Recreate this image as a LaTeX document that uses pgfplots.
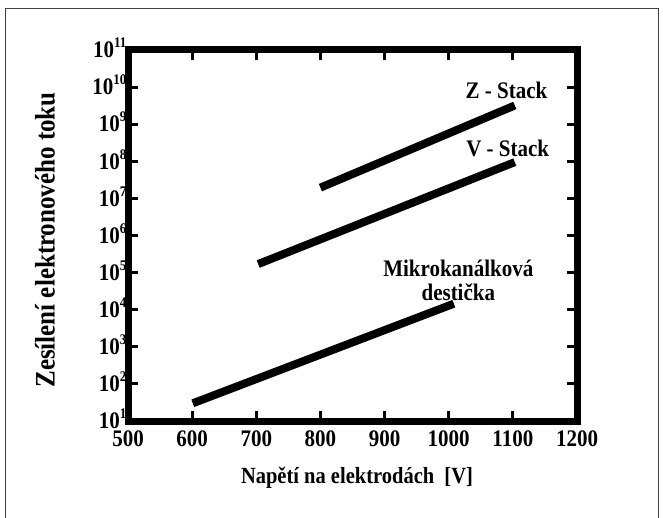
\documentclass[border=0pt]{standalone}
\usepackage{graphicx}
\usepackage{pgfplots}
\pgfplotsset{compat=1.18}
\usepackage{fontspec}
\setmainfont{Liberation Serif}
\newcommand{\sy}[1]{\scalebox{1}[1.13]{#1}}
\newcommand{\ex}[1]{\sy{10\raisebox{0.42em}{\fontsize{13}{13}\selectfont #1}}}
\begin{document}
\begin{tikzpicture}[x=1pt,y=1pt]
\useasboundingbox (0,0) rectangle (663,517);
\draw[line width=1.2pt, black!75] (5.5,-2) -- (5.5,508.5) -- (658.5,508.5) -- (658.5,-2);
\begin{axis}[
  at={(128pt,96pt)}, anchor=south west,
  width=449pt, height=371pt, scale only axis,
  xmin=500, xmax=1200, ymin=1e1, ymax=1e11, ymode=log,
  axis line style={line width=7pt, black},
  xtick={500,600,700,800,900,1000,1100,1200},
  xticklabels={\sy{500},\sy{600},\sy{700},\sy{800},\sy{900},\sy{1000},\sy{1100},\sy{1200}},
  ytick={1e1,1e2,1e3,1e4,1e5,1e6,1e7,1e8,1e9,1e10,1e11},
  yticklabels={\ex{1},\ex{2},\ex{3},\ex{4},\ex{5},\ex{6},\ex{7},\ex{8},\ex{9},\ex{10},\ex{11}},
  minor ytick={}, minor xtick={},
  major tick length=10pt,
  tick style={line width=3pt, black},
  tick label style={font=\fontsize{21}{22}\selectfont\bfseries},
  xticklabel style={yshift=-6pt},
  yticklabel style={xshift=2pt, yshift=2pt},
  xlabel={\sy{Napětí na elektrodách\ \ [V]}},
  ylabel={\sy{Zesílení elektronového toku}},
  xlabel style={font=\fontsize{20.5}{22}\selectfont\bfseries, at={(axis description cs:0.51,-0.154)}, anchor=center},
  ylabel style={font=\fontsize{25}{26}\selectfont\bfseries, at={(axis description cs:-0.185,0.488)}, anchor=center, rotate=0},
  clip=false,
]
\addplot[black, line width=8pt, line cap=butt] coordinates {(800,1.95e7) (1103,3.2e9)};
\addplot[black, line width=8pt, line cap=butt] coordinates {(703,1.7e5) (1103,9.5e7)};
\addplot[black, line width=8pt, line cap=butt] coordinates {(601,30) (1008,1.45e4)};
\node[font=\fontsize{21}{22}\selectfont\bfseries] at (axis cs:1090,8.2e9) {\sy{Z - Stack}};
\node[font=\fontsize{21}{22}\selectfont\bfseries] at (axis cs:1092,2.2e8) {\sy{V - Stack}};
\node[font=\fontsize{21}{22}\selectfont\bfseries, align=center] at (axis cs:1015,6.2e4) {\sy{Mikrokanálková}\\[1.5pt]\sy{destička}};
\end{axis}
\end{tikzpicture}
\end{document}
